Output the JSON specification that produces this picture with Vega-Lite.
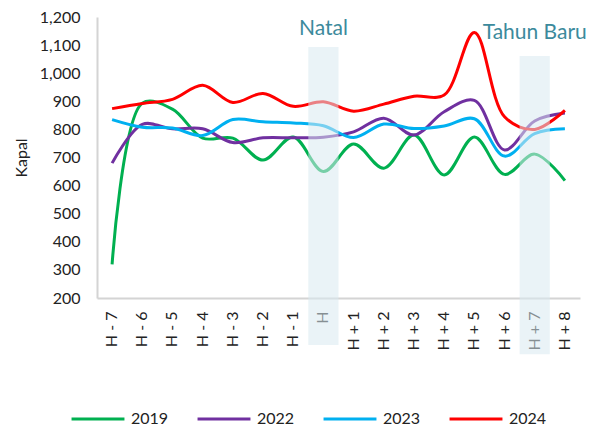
{
  "$schema": "https://vega.github.io/schema/vega-lite/v6.json",
  "autosize": "none",
  "width": 483,
  "height": 281,
  "padding": {"left": 97, "top": 17, "right": 19, "bottom": 130},
  "background": "white",
  "config": {
    "view": {"stroke": null},
    "font": "Lato",
    "axisX": {"labelAngle": -90, "labelAlign": "right", "labelBaseline": "middle", "labelFontSize": 16, "labelColor": "#222222", "labelPadding": 13, "ticks": false, "domainColor": "#d4d4d4", "domainWidth": 2, "grid": false},
    "axisY": {"titleFontSize": 16, "titleFontWeight": "normal", "titleColor": "#222222", "titlePadding": 10, "labelFontSize": 16, "labelColor": "#222222", "labelPadding": 17, "ticks": false, "domainColor": "#d4d4d4", "domainWidth": 2, "grid": false}
  },
  "datasets": {
    "series": [
      {"hari": "H - 7", "tahun": "2019", "kapal": 320},
      {"hari": "H - 6", "tahun": "2019", "kapal": 893},
      {"hari": "H - 5", "tahun": "2019", "kapal": 872},
      {"hari": "H - 4", "tahun": "2019", "kapal": 769},
      {"hari": "H - 3", "tahun": "2019", "kapal": 769},
      {"hari": "H - 2", "tahun": "2019", "kapal": 691},
      {"hari": "H - 1", "tahun": "2019", "kapal": 773},
      {"hari": "H", "tahun": "2019", "kapal": 650},
      {"hari": "H + 1", "tahun": "2019", "kapal": 748},
      {"hari": "H + 2", "tahun": "2019", "kapal": 662},
      {"hari": "H + 3", "tahun": "2019", "kapal": 780},
      {"hari": "H + 4", "tahun": "2019", "kapal": 638},
      {"hari": "H + 5", "tahun": "2019", "kapal": 773},
      {"hari": "H + 6", "tahun": "2019", "kapal": 640},
      {"hari": "H + 7", "tahun": "2019", "kapal": 712},
      {"hari": "H + 8", "tahun": "2019", "kapal": 618},
      {"hari": "H - 7", "tahun": "2022", "kapal": 680},
      {"hari": "H - 6", "tahun": "2022", "kapal": 818},
      {"hari": "H - 5", "tahun": "2022", "kapal": 802},
      {"hari": "H - 4", "tahun": "2022", "kapal": 802},
      {"hari": "H - 3", "tahun": "2022", "kapal": 753},
      {"hari": "H - 2", "tahun": "2022", "kapal": 770},
      {"hari": "H - 1", "tahun": "2022", "kapal": 770},
      {"hari": "H", "tahun": "2022", "kapal": 772},
      {"hari": "H + 1", "tahun": "2022", "kapal": 791},
      {"hari": "H + 2", "tahun": "2022", "kapal": 840},
      {"hari": "H + 3", "tahun": "2022", "kapal": 780},
      {"hari": "H + 4", "tahun": "2022", "kapal": 863},
      {"hari": "H + 5", "tahun": "2022", "kapal": 903},
      {"hari": "H + 6", "tahun": "2022", "kapal": 727},
      {"hari": "H + 7", "tahun": "2022", "kapal": 830},
      {"hari": "H + 8", "tahun": "2022", "kapal": 858},
      {"hari": "H - 7", "tahun": "2023", "kapal": 835},
      {"hari": "H - 6", "tahun": "2023", "kapal": 808},
      {"hari": "H - 5", "tahun": "2023", "kapal": 805},
      {"hari": "H - 4", "tahun": "2023", "kapal": 778},
      {"hari": "H - 3", "tahun": "2023", "kapal": 835},
      {"hari": "H - 2", "tahun": "2023", "kapal": 827},
      {"hari": "H - 1", "tahun": "2023", "kapal": 823},
      {"hari": "H", "tahun": "2023", "kapal": 813},
      {"hari": "H + 1", "tahun": "2023", "kapal": 771},
      {"hari": "H + 2", "tahun": "2023", "kapal": 819},
      {"hari": "H + 3", "tahun": "2023", "kapal": 803},
      {"hari": "H + 4", "tahun": "2023", "kapal": 812},
      {"hari": "H + 5", "tahun": "2023", "kapal": 838},
      {"hari": "H + 6", "tahun": "2023", "kapal": 705},
      {"hari": "H + 7", "tahun": "2023", "kapal": 785},
      {"hari": "H + 8", "tahun": "2023", "kapal": 802},
      {"hari": "H - 7", "tahun": "2024", "kapal": 874},
      {"hari": "H - 6", "tahun": "2024", "kapal": 892},
      {"hari": "H - 5", "tahun": "2024", "kapal": 907},
      {"hari": "H - 4", "tahun": "2024", "kapal": 957},
      {"hari": "H - 3", "tahun": "2024", "kapal": 896},
      {"hari": "H - 2", "tahun": "2024", "kapal": 928},
      {"hari": "H - 1", "tahun": "2024", "kapal": 882},
      {"hari": "H", "tahun": "2024", "kapal": 898},
      {"hari": "H + 1", "tahun": "2024", "kapal": 865},
      {"hari": "H + 2", "tahun": "2024", "kapal": 890},
      {"hari": "H + 3", "tahun": "2024", "kapal": 918},
      {"hari": "H + 4", "tahun": "2024", "kapal": 922},
      {"hari": "H + 5", "tahun": "2024", "kapal": 1145},
      {"hari": "H + 6", "tahun": "2024", "kapal": 845},
      {"hari": "H + 7", "tahun": "2024", "kapal": 800},
      {"hari": "H + 8", "tahun": "2024", "kapal": 868}
    ],
    "shade": [
      {"hari": "H", "atas": 1093, "bawah": 33, "label": "Natal", "labelY": 1136},
      {"hari": "H + 7", "atas": 1061, "bawah": 0, "label": "Tahun Baru", "labelY": 1122}
    ]
  },
  "layer": [
    {
      "data": {"name": "series"},
      "mark": {"type": "line", "interpolate": "catmull-rom", "strokeWidth": 3},
      "encoding": {
        "x": {
          "field": "hari", "type": "nominal",
          "sort": ["H - 7","H - 6","H - 5","H - 4","H - 3","H - 2","H - 1","H","H + 1","H + 2","H + 3","H + 4","H + 5","H + 6","H + 7","H + 8"],
          "scale": {"paddingInner": 0, "paddingOuter": 0},
          "axis": {"title": null}
        },
        "y": {
          "field": "kapal", "type": "quantitative",
          "scale": {"domain": [200, 1200], "nice": false, "zero": false},
          "axis": {"title": "Kapal", "format": ",.0f", "values": [200,300,400,500,600,700,800,900,1000,1100,1200]}
        },
        "color": {
          "field": "tahun", "type": "nominal",
          "scale": {"domain": ["2019","2022","2023","2024"], "range": ["#00B050","#7030A0","#00B0F0","#FF0000"]},
          "legend": {
            "title": null, "orient": "none", "direction": "horizontal",
            "legendX": -27, "legendY": 374,
            "symbolType": "stroke", "symbolSize": 2800, "symbolStrokeWidth": 3,
            "labelFontSize": 16, "labelColor": "#222222", "labelOffset": 5,
            "columnPadding": 22
          }
        }
      }
    },
    {
      "data": {"name": "shade"},
      "mark": {"type": "rect", "fill": "#d8eaf1", "opacity": 0.55, "clip": false},
      "encoding": {
        "x": {"field": "hari", "type": "nominal", "sort": ["H - 7","H - 6","H - 5","H - 4","H - 3","H - 2","H - 1","H","H + 1","H + 2","H + 3","H + 4","H + 5","H + 6","H + 7","H + 8"], "axis": {"title": null}},
        "y": {"field": "atas", "type": "quantitative", "axis": {"title": "Kapal", "format": ",.0f", "values": [200,300,400,500,600,700,800,900,1000,1100,1200]}},
        "y2": {"field": "bawah"}
      }
    },
    {
      "data": {"name": "shade"},
      "mark": {"type": "text", "color": "#3c8a9c", "fontSize": 21, "align": "center", "baseline": "alphabetic"},
      "encoding": {
        "x": {"field": "hari", "type": "nominal", "sort": ["H - 7","H - 6","H - 5","H - 4","H - 3","H - 2","H - 1","H","H + 1","H + 2","H + 3","H + 4","H + 5","H + 6","H + 7","H + 8"], "axis": {"title": null}},
        "y": {"field": "labelY", "type": "quantitative", "axis": {"title": "Kapal", "format": ",.0f", "values": [200,300,400,500,600,700,800,900,1000,1100,1200]}},
        "text": {"field": "label"}
      }
    }
  ]
}
